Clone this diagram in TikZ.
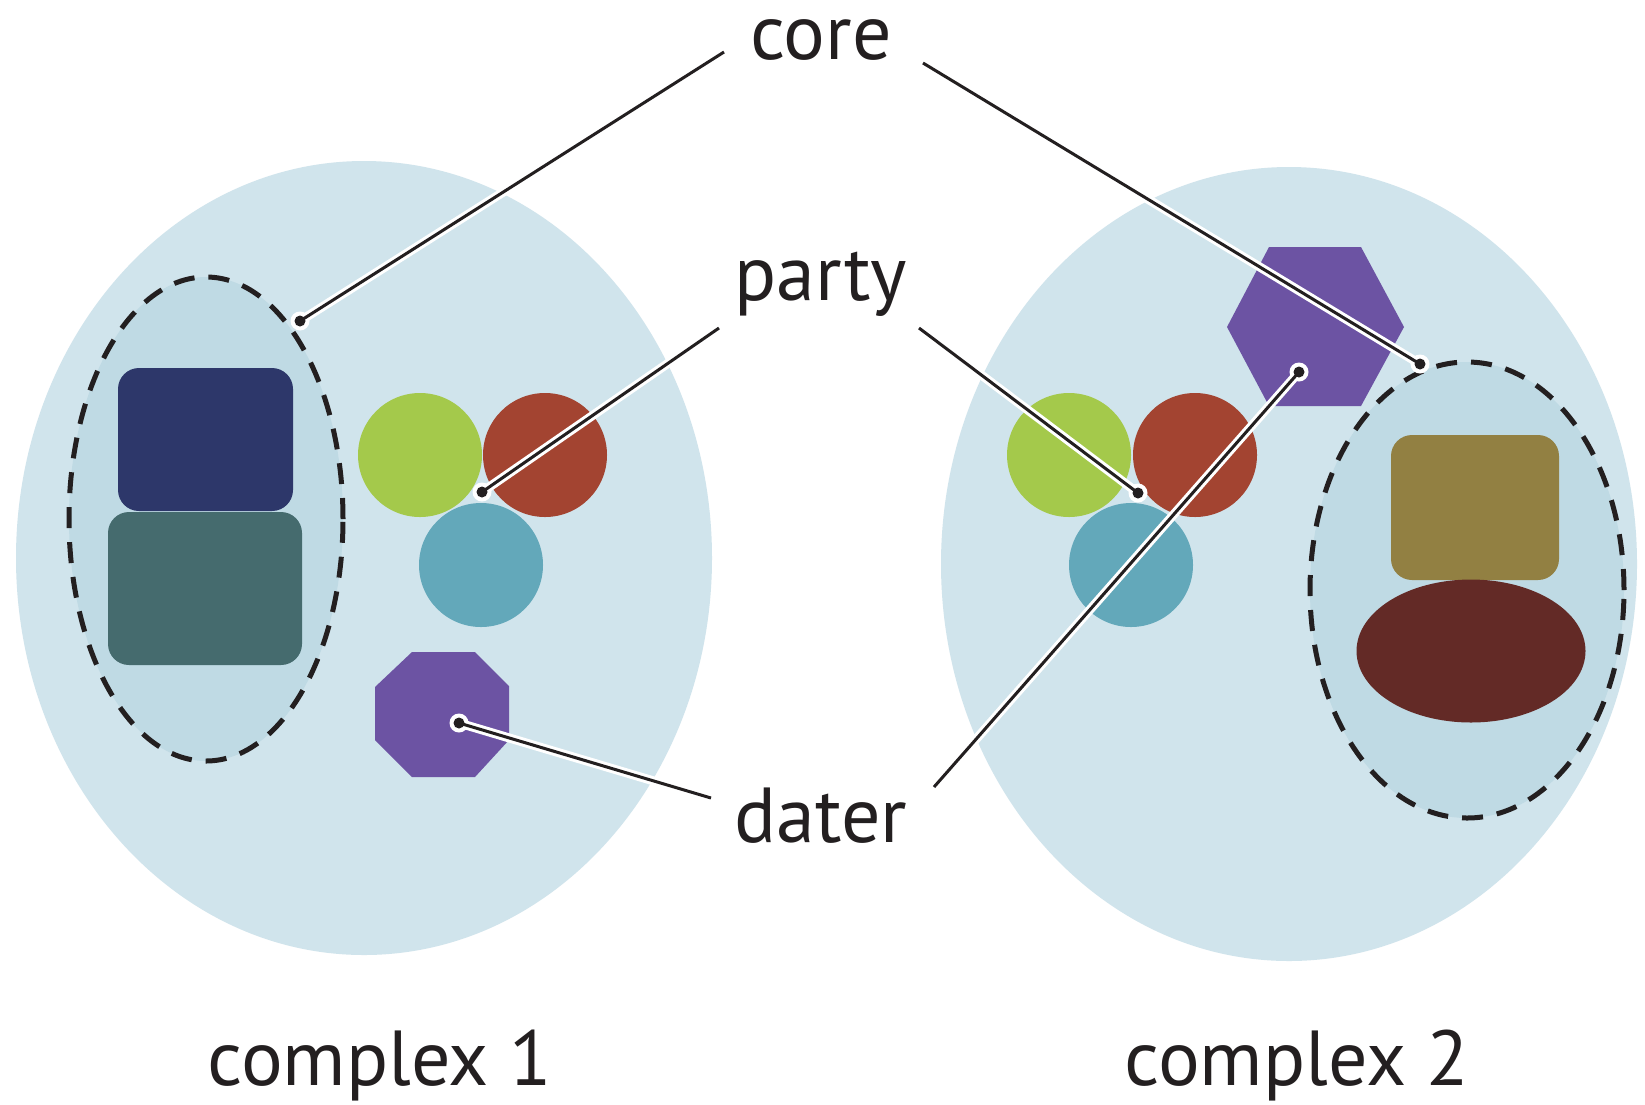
\documentclass[tikz,border=0pt]{standalone}
\usepackage{fontspec}
\setmainfont{PT Sans}
\usetikzlibrary{shapes.geometric}

\definecolor{bgblue}{HTML}{D0E4EC}
\definecolor{coreblue}{HTML}{BFDAE4}
\definecolor{navy}{HTML}{2D376A}
\definecolor{slate}{HTML}{456B6E}
\definecolor{leaf}{HTML}{A4C94B}
\definecolor{brick}{HTML}{A34431}
\definecolor{sky}{HTML}{63A8BA}
\definecolor{violet}{HTML}{6C53A3}
\definecolor{olive}{HTML}{928042}
\definecolor{maroon}{HTML}{632A26}
\definecolor{ink}{HTML}{231F20}

\begin{document}
\begin{tikzpicture}[x=1pt,y=-1pt,
  complexbg/.style={ellipse, fill=bgblue, inner sep=0pt, minimum width=696pt, minimum height=794pt},
  corering/.style={ellipse, draw=ink, line width=5pt, dash pattern=on 21pt off 14pt, fill=coreblue, inner sep=0pt},
  blob/.style={circle, minimum size=124pt, inner sep=0pt},
  card/.style={rectangle, rounded corners=21pt, inner sep=0pt},
  lbl/.style={font=\fontsize{78}{80}\selectfont, text=ink, inner sep=0pt, anchor=base},
  casing/.style={white, line width=9pt},
  wire/.style={ink, line width=3pt},
]
\useasboundingbox (0,0) rectangle (1645,1104);
\fill[white] (0,0) rectangle (1645,1104);

% the two complexes
\node[complexbg] (c1) at (364,558) {};
\node[complexbg] (c2) at (1289,564) {};

% cores
\node[corering, minimum width=274pt, minimum height=484pt] (core1) at (206,519) {};
\node[corering, minimum width=314pt, minimum height=456pt] (core2) at (1467,590) {};

% core subunits, complex 1
\node[card, fill=navy, minimum width=175pt, minimum height=143pt] (a1) at (205.5,439.5) {};
\node[card, fill=slate, minimum width=194pt, minimum height=153pt] (b1) at (205,588.5) {};

% core subunits, complex 2
\node[card, fill=olive, minimum width=168pt, minimum height=145pt] (a2) at (1475,507.5) {};
\node[ellipse, fill=maroon, inner sep=0pt, minimum width=229pt, minimum height=143pt] (b2) at (1471,651) {};

% party subunits
\node[blob, fill=leaf]  (g1) at (420,455) {};
\node[blob, fill=brick] (r1) at (545,455) {};
\node[blob, fill=sky]   (s1) at (481,565) {};
\node[blob, fill=leaf]  (g2) at (1069,455) {};
\node[blob, fill=brick] (r2) at (1195,455) {};
\node[blob, fill=sky]   (s2) at (1131,565) {};

% dater subunits
\fill[violet] (412,652) -- (475,652) -- (509,686) -- (509,740) -- (475,777)
  -- (412,777) -- (375,740) -- (375,687) -- cycle;
\fill[violet] (1227,327) -- (1269,247) -- (1361,247) -- (1404,327)
  -- (1361,406) -- (1269,406) -- cycle;

% labels
\node[lbl] (core)  at (821,59)  {core};
\node[lbl] (party) at (821,300) {party};
\node[lbl] (dater) at (821,842) {dater};
\node[lbl] (cx1) at (380,1085)  {complex 1};
\node[lbl] (cx2) at (1297,1085) {complex 2};

% leader ends next to the labels
\coordinate (core-l)  at (724,52);
\coordinate (core-r)  at (923,63);
\coordinate (party-l) at (719,328);
\coordinate (party-r) at (919,328);
\coordinate (dater-l) at (711,798);
\coordinate (dater-r) at (934,787);

% leader targets
\coordinate (t-core1)  at (300,321);
\coordinate (t-core2)  at (1420,364);
\coordinate (t-party1) at (482,492);
\coordinate (t-party2) at (1138,493);
\coordinate (t-dater1) at (459,723);
\coordinate (t-dater2) at (1299,372);

% leaders: white casing, then the black wire and end dot
\foreach \a/\b in {core-l/t-core1, core-r/t-core2, party-l/t-party1,
                   party-r/t-party2, dater-l/t-dater1, dater-r/t-dater2}{
  \draw[casing] (\a) -- (\b);
  \fill[white] (\b) circle (9.5pt);
  \draw[wire] (\a) -- (\b);
  \fill[ink] (\b) circle (5.5pt);
}
\end{tikzpicture}
\end{document}
